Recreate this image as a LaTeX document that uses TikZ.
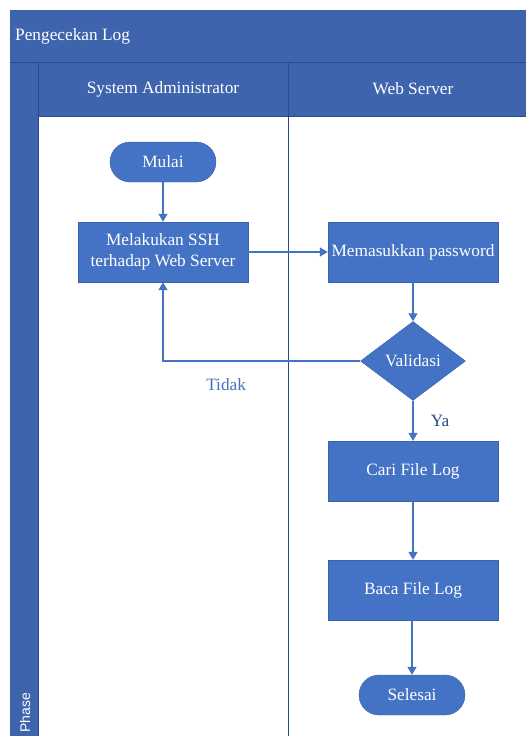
\documentclass[tikz,border=0pt]{standalone}
\usepackage{fontspec}
\setmainfont{Liberation Serif}
\setsansfont{Liberation Sans}
\usepackage{tikz}
\usetikzlibrary{positioning, arrows.meta, shapes.geometric}
\definecolor{lane-blue}{HTML}{3E64AD}
\definecolor{lane-line}{HTML}{2C4A86}
\definecolor{box-blue}{HTML}{4472C4}
\definecolor{box-edge}{HTML}{3A63AE}

\begin{document}
\begin{tikzpicture}[
    x=1pt, y=-1pt,
    txt/.style={font=\fontsize{17.3}{20.5}\selectfont},
    proc/.style={txt, draw=box-edge, fill=box-blue, text=white, minimum width=170pt,
        minimum height=60pt, align=center, inner sep=1pt},
    term/.style={txt, draw=box-edge, fill=box-blue, text=white, minimum width=106pt,
        minimum height=40pt, rounded corners=20pt},
    decide/.style={txt, diamond, draw=box-edge, fill=box-blue, text=white, minimum width=105pt,
        minimum height=79pt, inner sep=0pt, aspect=1.33},
    flow/.style={draw=box-blue, line width=1.2pt, -{Triangle[length=8pt, width=9pt]}},
]
    \useasboundingbox (0,0) rectangle (526,736);
    \def\pw{526}
    \def\ph{736}
    \def\colx{288}

    % Pool frame
    \fill[lane-blue] (10,10) rectangle (\pw,\ph);
    \fill[white] (38,116) rectangle (\pw,\ph);
    \draw[lane-line, thin] (10,62) -- (\pw,62);
    \draw[lane-line, thin] (38,62) -- (38,\ph);
    \draw[lane-line, thin] (38,116) -- (\pw,116);
    \draw[lane-line, thin] (\colx,62) -- (\colx,\ph);

    % Titles
    \node[txt, text=white, anchor=west, inner sep=0pt] (pool) at (15,36) {Pengecekan Log};
    \node[txt, text=white] (laneA) at (163,89) {System Administrator};
    \node[txt, text=white] (laneB) at (413,89) {Web Server};
    \node[font=\sffamily\fontsize{14}{16}\selectfont, text=white, rotate=90, anchor=west,
        inner sep=0pt] (phase) at (25,733) {Phase};

    % Steps
    \node[term] (mulai) at (163,162) {Mulai};
    \node[proc] (ssh) at (163,252) {Melakukan SSH\\terhadap Web Server};
    \node[proc] (pass) at (413,252) {Memasukkan password};
    \node[decide] (valid) at (413,361) {Validasi};
    \node[proc] (cari) at (413,471) {Cari File Log};
    \node[proc] (baca) at (413,590) {Baca File Log};
    \node[term] (selesai) at (412,695) {Selesai};

    % Arrows
    \draw[flow] (mulai) -- (ssh);
    \draw[flow] (ssh) -- (pass);
    \draw[flow] (pass) -- (valid);
    \draw[flow] (valid.west) -| (ssh.south)
        node[txt, pos=0.34, below=14pt, text=box-blue] (tidak) {Tidak};
    \draw[flow] (valid) -- (cari)
        node[txt, midway, right=14pt, text=lane-line] (ya) {Ya};
    \draw[flow] (cari) -- (baca);
    \draw[flow] (baca.south -| selesai.north) -- (selesai.north);

\end{tikzpicture}
\end{document}
